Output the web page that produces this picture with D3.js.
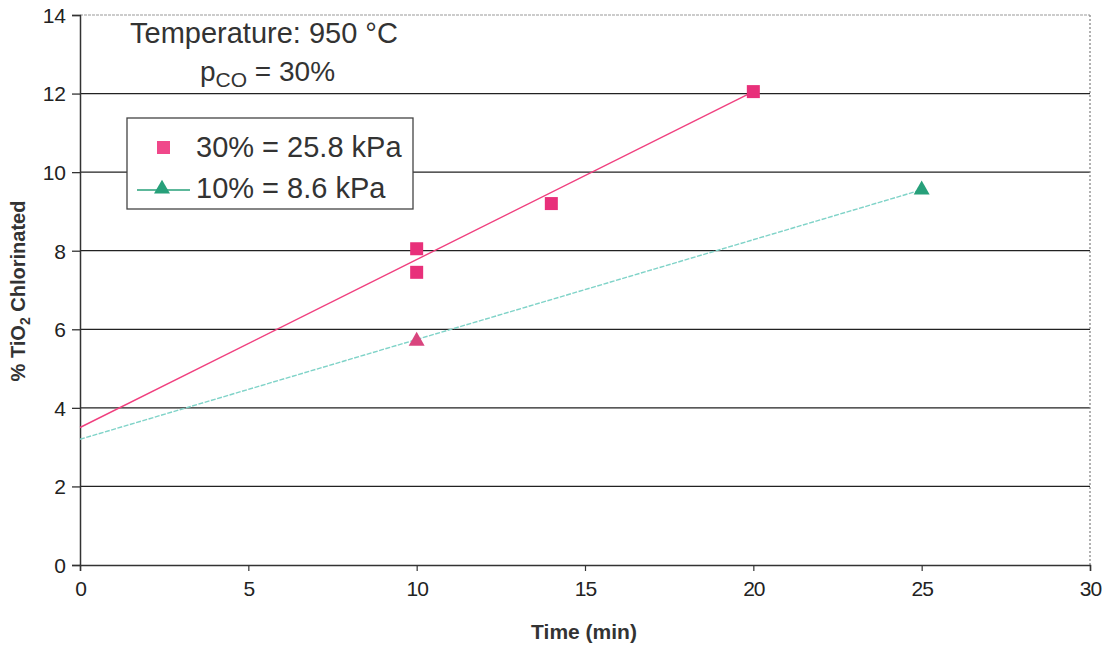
<!DOCTYPE html>
<html><head><meta charset="utf-8">
<script src="https://cdn.jsdelivr.net/npm/d3@7"></script>
<style>
body{margin:0;background:#fff;}
text{font-family:"Liberation Sans",Arial,sans-serif;}
</style></head>
<body><svg id="c" width="1107" height="648"></svg>
<script>
const xTicks = [0,5,10,15,20,25,30];
const yTicks = [0,2,4,6,8,10,12,14];
const pinkTime = [10,10,14,20];
const pinkValue = [8.05,7.45,9.2,12.05];
const greenTime = [10,25];
const greenValue = [5.7,9.55];
const pinkTrendTime = [0,20];
const pinkTrendValue = [3.5,12.05];
const greenTrendTime = [0,25];
const greenTrendValue = [3.2,9.55];
const legendLabels = ["30% = 25.8 kPa","10% = 8.6 kPa"];

const svg = d3.select("#c");
const x = d3.scaleLinear().domain([0,30]).range([80,1090]);
const y = d3.scaleLinear().domain([0,14]).range([565,15]);

// gridlines
svg.append("g").selectAll("line").data(yTicks.filter(d=>d>0 && d<14)).join("line")
  .attr("x1",x(0)).attr("x2",x(30)).attr("y1",d=>y(d)).attr("y2",d=>y(d))
  .attr("stroke","#222").attr("stroke-width",1.3);
// top border
svg.append("line").attr("x1",x(0)).attr("x2",x(30)).attr("y1",y(14)).attr("y2",y(14))
  .attr("stroke","#999").attr("stroke-width",1.2).attr("stroke-dasharray","3,1");
// right border
svg.append("line").attr("x1",x(30)).attr("x2",x(30)).attr("y1",y(14)).attr("y2",y(0))
  .attr("stroke","#888").attr("stroke-width",1.3).attr("stroke-dasharray","2,2");

// axes
const yAxis = d3.axisLeft(y).tickValues(yTicks).tickSize(8).tickPadding(6);
const gy = svg.append("g").attr("transform",`translate(${x(0)},0)`).call(yAxis);
gy.select(".domain").attr("stroke","#333").attr("stroke-width",1.5);
gy.selectAll(".tick line").attr("stroke","#333").attr("stroke-width",1.3);
gy.selectAll(".tick text").attr("font-size",21).attr("fill","#222").attr("dy","0.35em")
  .style("font-family","'Liberation Sans',Arial,sans-serif");

const xAxis = d3.axisBottom(x).tickValues(xTicks).tickSize(6).tickPadding(10);
const gx = svg.append("g").attr("transform",`translate(0,${y(0)})`).call(xAxis);
gx.select(".domain").attr("stroke","#333").attr("stroke-width",1.5);
gx.selectAll(".tick line").attr("stroke","#333").attr("stroke-width",1.2);
gx.selectAll(".tick text").attr("font-size",21).attr("fill","#222")
  .style("font-family","'Liberation Sans',Arial,sans-serif").attr("letter-spacing","-1");

// axis titles
svg.append("text").attr("x",584).attr("y",639).attr("text-anchor","middle")
  .attr("font-size",21).attr("font-weight","bold").attr("fill","#333").text("Time (min)");
const yl = svg.append("text").attr("transform","translate(25,291) rotate(-90)")
  .attr("text-anchor","middle").attr("font-size",20).attr("font-weight","bold").attr("fill","#333");
yl.append("tspan").text("% TiO");
yl.append("tspan").attr("font-size",14).attr("dy",5).text("2");
yl.append("tspan").attr("dy",-5).text(" Chlorinated");

// trend lines
const line = d3.line().x(d=>x(d[0])).y(d=>y(d[1]));
svg.append("path").datum(pinkTrendTime.map((t,i)=>[t,pinkTrendValue[i]])).attr("d",line)
  .attr("fill","none").attr("stroke","#f0407f").attr("stroke-width",1.4);
svg.append("path").datum(greenTrendTime.map((t,i)=>[t,greenTrendValue[i]])).attr("d",line)
  .attr("fill","none").attr("stroke","#7fd3c8").attr("stroke-width",1.4).attr("stroke-dasharray","5,1.5");

// markers
svg.append("g").selectAll("rect").data(pinkTime.map((t,i)=>[t,pinkValue[i]])).join("rect")
  .attr("x",d=>x(d[0])-6.5).attr("y",d=>y(d[1])-6.5).attr("width",13).attr("height",13)
  .attr("fill","#e8307a");
const tri = d3.symbol().type(d3.symbolTriangle).size(110);
svg.append("g").selectAll("path").data(greenTime.map((t,i)=>[t,greenValue[i]])).join("path")
  .attr("d",tri).attr("transform",d=>`translate(${x(d[0])},${y(d[1])})`)
  .attr("fill",(d,i)=>i===0?"#d9457e":"#27a07a");

// annotations
svg.append("text").attr("x",130).attr("y",43).attr("font-size",29).attr("fill","#333").text("Temperature: 950 °C");
const p = svg.append("text").attr("x",200).attr("y",81).attr("font-size",28).attr("fill","#333");
p.append("tspan").text("p");
p.append("tspan").attr("font-size",21).attr("dy",6).text("CO");
p.append("tspan").attr("dy",-6).text(" = 30%");

// legend
const lg = svg.append("g");
lg.append("rect").attr("x",127).attr("y",118).attr("width",286).attr("height",91)
  .attr("fill","#fff").attr("stroke","#444").attr("stroke-width",1.3);
lg.append("rect").attr("x",157).attr("y",141).attr("width",13).attr("height",13).attr("fill","#f0488a");
lg.append("line").attr("x1",137).attr("x2",190).attr("y1",190).attr("y2",190)
  .attr("stroke","#27a07a").attr("stroke-width",1.6);
lg.append("path").attr("d",tri).attr("transform","translate(162,189)").attr("fill","#27a07a");
lg.selectAll("text.l").data(legendLabels).join("text").attr("class","l")
  .attr("x",196).attr("y",(d,i)=>157+i*41).attr("font-size",29).attr("fill","#333").text(d=>d);
</script></body></html>
